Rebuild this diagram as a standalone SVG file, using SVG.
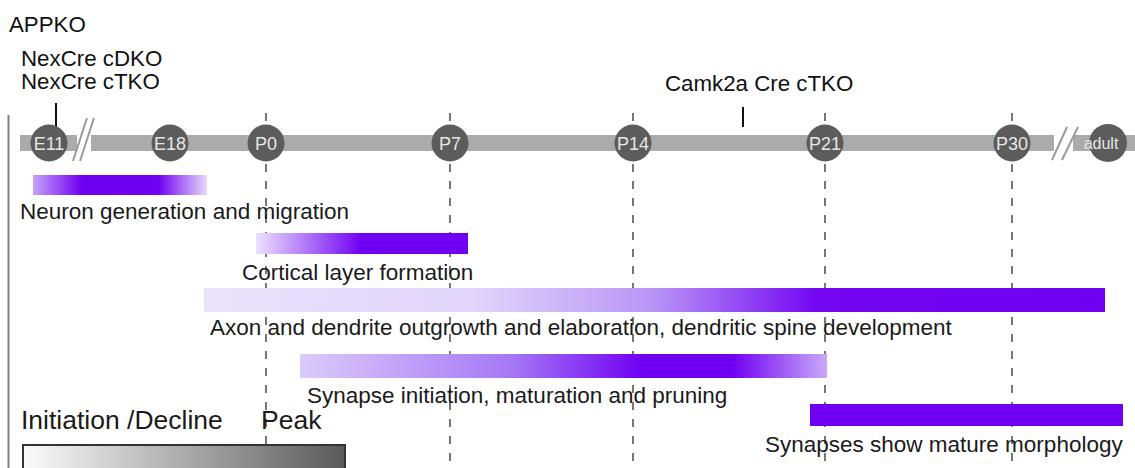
<svg xmlns="http://www.w3.org/2000/svg" width="1135" height="468" viewBox="0 0 1135 468">
<style>
  .lbl{font-family:"Liberation Sans",Arial,sans-serif;font-size:22.5px;fill:#1a1a1a}
  .top{font-family:"Liberation Sans",Arial,sans-serif;font-size:22.3px;fill:#111}
  .leg{font-family:"Liberation Sans",Arial,sans-serif;font-size:26.5px;fill:#1a1a1a}
  .node circle{fill:#5c5c5c}
  .node text{font-family:"Liberation Sans",Arial,sans-serif;font-size:18px;fill:#e6e6e6;text-anchor:middle}
  .dash{stroke:#555;stroke-width:1.6;stroke-dasharray:8 9;fill:none}
  .brk{stroke:#9a9a9a;stroke-width:2;fill:none}
  .tick{stroke:#111;stroke-width:2}
</style>
<defs>
  <linearGradient id="g1" x1="0" x2="1" y1="0" y2="0">
    <stop offset="0" stop-color="#c4a2f8"/>
    <stop offset="0.28" stop-color="#7000f2"/>
    <stop offset="0.72" stop-color="#7000f2"/>
    <stop offset="1" stop-color="#e8dafc"/>
  </linearGradient>
  <linearGradient id="g2" x1="0" x2="1" y1="0" y2="0">
    <stop offset="0" stop-color="#ece2fd"/>
    <stop offset="0.5" stop-color="#7000f2"/>
    <stop offset="1" stop-color="#7000f2"/>
  </linearGradient>
  <linearGradient id="g3" x1="0" x2="1" y1="0" y2="0">
    <stop offset="0" stop-color="#ebe2fb"/>
    <stop offset="0.3" stop-color="#e2d4fb"/>
    <stop offset="0.5" stop-color="#b894f6"/>
    <stop offset="0.68" stop-color="#7406f2"/>
    <stop offset="1" stop-color="#7000f2"/>
  </linearGradient>
  <linearGradient id="g4" x1="0" x2="1" y1="0" y2="0">
    <stop offset="0" stop-color="#dccafb"/>
    <stop offset="0.4" stop-color="#a678f5"/>
    <stop offset="0.65" stop-color="#7000f2"/>
    <stop offset="0.82" stop-color="#7000f2"/>
    <stop offset="1" stop-color="#c9aaf9"/>
  </linearGradient>
  <linearGradient id="gl" x1="0" x2="1" y1="0" y2="0">
    <stop offset="0" stop-color="#fbfbfb"/>
    <stop offset="1" stop-color="#5a5a5a"/>
  </linearGradient>
</defs>

<!-- left axis line -->
<line x1="8.5" y1="115" x2="8.5" y2="468" stroke="#808080" stroke-width="2"/>

<!-- top labels -->
<text class="top" x="9" y="32">APPKO</text>
<text class="top" x="21" y="66">NexCre cDKO<tspan x="21" dy="23">NexCre cTKO</tspan></text>
<text class="top" x="665" y="91">Camk2a Cre cTKO</text>

<g id="connectors">
  <line class="tick" x1="56" y1="103" x2="56" y2="128"/>
  <line class="tick" x1="743" y1="107" x2="743" y2="127"/>
  <line class="dash" x1="266" y1="113" x2="266" y2="468"/>
  <line class="dash" x1="450" y1="113" x2="450" y2="468"/>
  <line class="dash" x1="633" y1="113" x2="633" y2="468"/>
  <line class="dash" x1="825" y1="113" x2="825" y2="468"/>
  <line class="dash" x1="1012" y1="113" x2="1012" y2="468"/>
</g>

<!-- timeline band -->
<g id="timeline">
  <rect x="20" y="135" width="57" height="16" fill="#ababab"/>
  <rect x="91" y="135" width="963" height="16" fill="#ababab"/>
  <rect x="1073" y="135" width="62" height="16" fill="#ababab"/>
  <line class="brk" x1="73" y1="161" x2="87" y2="118"/>
  <line class="brk" x1="80" y1="161" x2="94" y2="118"/>
  <line class="brk" x1="1052" y1="160" x2="1067" y2="127"/>
  <line class="brk" x1="1062" y1="160" x2="1078" y2="127"/>
</g>

<g id="n-E11" class="node"><circle cx="49" cy="143" r="18.5"/><text x="49" y="149.5">E11</text></g>
<g id="n-E18" class="node"><circle cx="170" cy="143" r="18.5"/><text x="170" y="149.5">E18</text></g>
<g id="n-P0" class="node"><circle cx="266" cy="143" r="18.5"/><text x="266" y="149.5">P0</text></g>
<g id="n-P7" class="node"><circle cx="450" cy="143" r="18.5"/><text x="450" y="149.5">P7</text></g>
<g id="n-P14" class="node"><circle cx="633" cy="143" r="18.5"/><text x="633" y="149.5">P14</text></g>
<g id="n-P21" class="node"><circle cx="825" cy="143" r="18.5"/><text x="825" y="149.5">P21</text></g>
<g id="n-P30" class="node"><circle cx="1012" cy="143" r="18.5"/><text x="1012" y="149.5">P30</text></g>
<g id="n-adult" class="node"><circle cx="1108" cy="143" r="19"/><text x="1101" y="149" style="font-size:16px">adult</text></g>

<!-- bars -->
<g id="bar-neuron">
  <rect x="33" y="175" width="174" height="20" fill="url(#g1)"/>
  <text class="lbl" x="20" y="219">Neuron generation and migration</text>
</g>
<g id="bar-cortical">
  <rect x="256" y="233" width="212" height="21" fill="url(#g2)"/>
  <text class="lbl" x="242" y="280">Cortical layer formation</text>
</g>
<g id="bar-axon">
  <rect x="204" y="288" width="901" height="24" fill="url(#g3)"/>
  <text class="lbl" x="210" y="335">Axon and dendrite outgrowth and elaboration, dendritic spine development</text>
</g>
<g id="bar-synapse">
  <rect x="300" y="354" width="527" height="24" fill="url(#g4)"/>
  <text class="lbl" x="307" y="403">Synapse initiation, maturation and pruning</text>
</g>
<g id="bar-mature">
  <rect x="810" y="404" width="313" height="22" fill="#7000f2"/>
  <text class="lbl" x="765" y="452">Synapses show mature morphology</text>
</g>

<!-- legend -->
<g id="legend">
  <text class="leg" x="21" y="429">Initiation /Decline</text>
  <text class="leg" x="261" y="429">Peak</text>
  <rect x="23" y="445" width="322" height="26" fill="url(#gl)" stroke="#333" stroke-width="2"/>
</g>
</svg>
